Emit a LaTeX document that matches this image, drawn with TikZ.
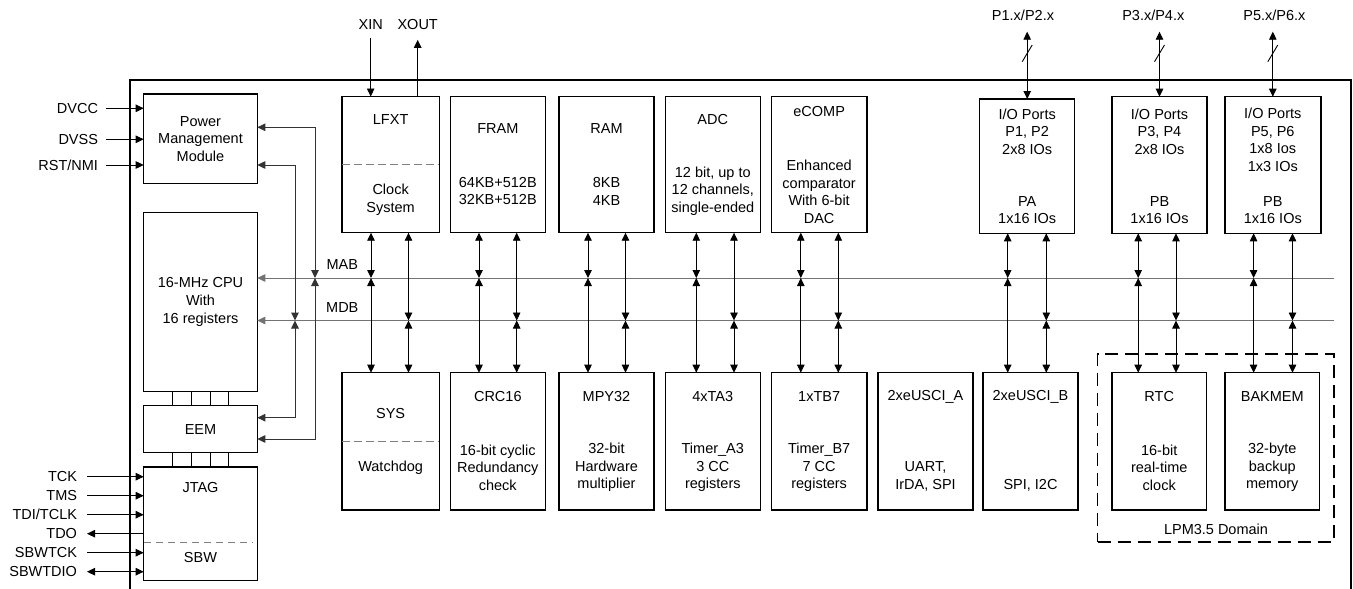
\documentclass[tikz,border=0pt]{standalone}
\usepackage{fontspec}
\setmainfont{Liberation Sans}
\usetikzlibrary{arrows.meta,calc}
\begin{document}
\begin{tikzpicture}[x=1pt,y=-1pt,
  every node/.style={font=\fontsize{14.5pt}{17.6pt}\selectfont},
  blk/.style={draw=black,line width=1.5pt,anchor=north west,inner sep=0pt,outer sep=0pt,minimum width=95pt},
  txt/.style={inner sep=0pt,outer sep=0pt,align=center},
  conn/.style={draw=black,line width=0.9pt},
  gconn/.style={draw=black!80,line width=1pt},
  arr/.style={-{Triangle[length=8pt,width=7.5pt]}},
  darr/.style={{Triangle[length=8pt,width=7.5pt]}-{Triangle[length=8pt,width=7.5pt]}},
  bus/.style={draw=black!55,line width=1pt},
  sepline/.style={draw=black!50,line width=0.9pt,dash pattern=on 7.5pt off 4.5pt},
  lpmbox/.style={draw=black,line width=1.8pt,dash pattern=on 13pt off 7pt,anchor=north west,inner sep=0pt,outer sep=0pt},
]
\useasboundingbox (0,0) rectangle (1353,589);

% chip outline
\draw[line width=1.8pt] (130,600) -- (130,80) -- (1350.7,80) -- (1350.7,600);

% left column
\node[blk,minimum width=113.6pt,minimum height=89.7pt] (pmm) at (143.7,94) {};
\node[blk,minimum width=113.6pt,minimum height=179.4pt] (cpu) at (143.7,212.3) {};
\node[blk,minimum width=113.6pt,minimum height=47pt] (eem) at (143.7,405.7) {};
\node[blk,minimum width=113.6pt,minimum height=113.3pt] (jtag) at (143.7,467) {};
\node[txt] (pmm-t) at (pmm.center) {Power\\Management\\Module};
\node[txt] (cpu-t) at (cpu.center) {16-MHz CPU\\With\\16 registers};
\node[txt] (eem-t) at (eem.center) {EEM};
\node[txt] (jtag-t) at ($(jtag.north)+(0,21)$) {JTAG};
\node[txt] (sbw-t) at ($(jtag.north)+(0,91)$) {SBW};
\draw[sepline] ($(jtag.north west)+(0,75.7)$) -- ($(jtag.north east)+(-4,75.7)$);

% CPU-EEM-JTAG links
\foreach \d in {-28.2,-9.5,9.5,28.2}{
  \draw[conn] ($(cpu.south)+(\d,0)$) -- ($(eem.north)+(\d,0)$);
  \draw[conn] ($(eem.south)+(\d,0)$) -- ($(jtag.north)+(\d,0)$);
}

% left pins
\node[txt,anchor=east] (dvcc) at (98,108.3) {DVCC};
\node[txt,anchor=east] (dvss) at (98,139.3) {DVSS};
\node[txt,anchor=east] (rst) at (98,165) {RST/NMI};
\foreach \n in {dvcc,dvss,rst}{
  \draw[conn,arr] ($(\n.east)+(8,0)$) -- (\n.east -| pmm.west);
}
\node[txt,anchor=east] (tck) at (77,476.7) {TCK};
\node[txt,anchor=east] (tms) at (77,495.7) {TMS};
\node[txt,anchor=east] (tdi) at (77,514.7) {TDI/TCLK};
\node[txt,anchor=east] (tdo) at (77,533.7) {TDO};
\node[txt,anchor=east] (sbwtck) at (77,552.7) {SBWTCK};
\node[txt,anchor=east] (sbwtdio) at (77,571.7) {SBWTDIO};
\foreach \n in {tck,tms,tdi,sbwtck}{
  \draw[conn,arr] ($(\n.east)+(10,0)$) -- (\n.east -| jtag.west);
}
\draw[conn,arr] (tdo.east -| jtag.west) -- ($(tdo.east)+(10,0)$);
\draw[conn,darr] ($(sbwtdio.east)+(10,0)$) -- (sbwtdio.east -| jtag.west);

% top row
\node[blk,minimum width=97.3pt,minimum height=136.2pt] (lfxt) at (342,96.5) {};
\node[blk,minimum height=136.2pt] (fram) at (450.3,96.5) {};
\node[blk,minimum height=136.2pt] (ram) at (559,96.5) {};
\node[blk,minimum height=136.2pt] (adc) at (665.3,96.5) {};
\node[blk,minimum width=95.7pt,minimum height=136.2pt] (ecomp) at (771.3,96.5) {};
\node[blk,minimum height=134.3pt] (io1) at (979.7,99) {};
\node[blk,minimum height=136.6pt] (io2) at (1112,96.7) {};
\node[blk,minimum width=96pt,minimum height=136.6pt] (io3) at (1224.8,96.7) {};

\node[txt] (lfxt-t) at ($(lfxt.north)+(0,22.8)$) {LFXT};
\draw[sepline] ($(lfxt.north west)+(0,67.8)$) -- ($(lfxt.north east)+(0,67.8)$);
\node[txt] (lfxt-b) at ($(lfxt.north)+(0,103)$) {Clock\\System};
\node[txt] (fram-t) at ($(fram.north)+(0,31.8)$) {FRAM};
\node[txt] (fram-b) at ($(fram.north)+(0,94.7)$) {64KB+512B\\32KB+512B};
\node[txt] (ram-t) at ($(ram.north)+(0,31.8)$) {RAM};
\node[txt] (ram-b) at ($(ram.north)+(0,94.7)$) {8KB\\4KB};
\node[txt] (adc-t) at ($(adc.north)+(0,22.8)$) {ADC};
\node[txt] (adc-b) at ($(adc.north)+(0,94.7)$) {12 bit, up to\\12 channels,\\single-ended};
\node[txt] (ecomp-t) at ($(ecomp.north)+(0,15.2)$) {eCOMP};
\node[txt] (ecomp-b) at ($(ecomp.north)+(0,95.2)$) {Enhanced\\comparator\\With 6-bit\\DAC};
\node[txt] (io1-t) at (io1.north |- 0,131.5) {I/O Ports\\P1, P2\\2x8 IOs};
\node[txt] (io1-b) at (io1.north |- 0,210) {PA\\1x16 IOs};
\node[txt] (io2-t) at (io2.north |- 0,131.5) {I/O Ports\\P3, P4\\2x8 IOs};
\node[txt] (io2-b) at (io2.north |- 0,210) {PB\\1x16 IOs};
\node[txt] (io3-t) at (io3.north |- 0,140) {I/O Ports\\P5, P6\\1x8 Ios\\1x3 IOs};
\node[txt] (io3-b) at (io3.north |- 0,210) {PB\\1x16 IOs};

% bottom row
\node[blk,minimum width=97.3pt,minimum height=137.3pt] (sys) at (342,372.7) {};
\node[blk,minimum height=137.3pt] (crc) at (450.3,372.7) {};
\node[blk,minimum height=137.3pt] (mpy) at (559,372.7) {};
\node[blk,minimum height=137.3pt] (ta3) at (665.3,372.7) {};
\node[blk,minimum width=95.7pt,minimum height=137.3pt] (tb7) at (771.3,372.7) {};
\node[blk,minimum height=137.3pt] (usa) at (878,372.7) {};
\node[blk,minimum height=137.3pt] (usb) at (983,372.7) {};
\node[blk,minimum width=94.5pt,minimum height=137.3pt] (rtc) at (1112,372.7) {};
\node[blk,minimum width=94.5pt,minimum height=137.3pt] (bak) at (1225,372.7) {};

\node[txt] (sys-t) at ($(sys.north)+(0,40.6)$) {SYS};
\draw[sepline] ($(sys.north west)+(0,68.3)$) -- ($(sys.north east)+(0,68.3)$);
\node[txt] (sys-b) at ($(sys.north)+(0,95)$) {Watchdog};
\node[txt] (crc-t) at ($(crc.north)+(0,24)$) {CRC16};
\node[txt] (crc-b) at ($(crc.north)+(0,94.8)$) {16-bit cyclic\\Redundancy\\check};
\node[txt] (mpy-t) at ($(mpy.north)+(0,24)$) {MPY32};
\node[txt] (mpy-b) at ($(mpy.north)+(0,94.8)$) {32-bit\\Hardware\\multiplier};
\node[txt] (ta3-t) at ($(ta3.north)+(0,24)$) {4xTA3};
\node[txt] (ta3-b) at ($(ta3.north)+(0,94.8)$) {Timer\_A3\\3 CC\\registers};
\node[txt] (tb7-t) at ($(tb7.north)+(0,24)$) {1xTB7};
\node[txt] (tb7-b) at ($(tb7.north)+(0,94.8)$) {Timer\_B7\\7 CC\\registers};
\node[txt] (usa-t) at ($(usa.north)+(0,24)$) {2xeUSCI\_A};
\node[txt] (usa-b) at ($(usa.north)+(0,103.7)$) {UART,\\IrDA, SPI};
\node[txt] (usb-t) at ($(usb.north)+(0,24)$) {2xeUSCI\_B};
\node[txt] (usb-b) at ($(usb.north)+(0,112.3)$) {SPI, I2C};
\node[txt] (rtc-t) at ($(rtc.north)+(0,24)$) {RTC};
\node[txt] (rtc-b) at ($(rtc.north)+(0,94.8)$) {16-bit\\real-time\\clock};
\node[txt] (bak-t) at ($(bak.north)+(0,24)$) {BAKMEM};
\node[txt] (bak-b) at ($(bak.north)+(0,94.8)$) {32-byte\\backup\\memory};

% LPM3.5 domain
\node[lpmbox,minimum width=236.5pt,minimum height=187.7pt] (lpm) at (1097.5,354) {};
\node[txt] (lpm-t) at (1216,529) {LPM3.5 Domain};

% buses
\coordinate (mabend) at (1334,278);
\coordinate (mdbend) at (1334,320.5);
\draw[bus,arr] (mabend) -- (mabend -| cpu.east);
\draw[bus,arr] (mdbend) -- (mdbend -| cpu.east);
\node[txt] (mab) at (342.3,265) {MAB};
\node[txt] (mdb) at (342.3,308) {MDB};

% PMM / EEM links to buses
\coordinate (v1) at (315,278);
\coordinate (v2) at (295,320.5);
\draw[gconn,darr] ($(pmm.north east)+(0,33.3)$) -| (v1);
\draw[gconn,darr] (v1) |- ($(eem.north east)+(0,33.3)$);
\draw[gconn,darr] ($(pmm.north east)+(0,71)$) -| (v2);
\draw[gconn,darr] (v2) |- ($(eem.north east)+(0,12)$);

% peripheral bus links
\foreach \t/\b/\xa/\xb in {lfxt/sys/371/408.5, fram/crc/479/516.7, ram/mpy/588/625.5, adc/ta3/696.3/734, ecomp/tb7/800.8/838.3, io1/usb/1007.7/1046.3, io2/rtc/1138.2/1176, io3/bak/1253.6/1292.5}{
  \coordinate (ma-\t) at (\xa,278);
  \coordinate (md-\t) at (\xb,320.5);
  \draw[conn,darr] (ma-\t |- \t.south) -- (ma-\t);
  \draw[conn,darr] (ma-\t) -- (ma-\t |- \b.north);
  \draw[conn,darr] (md-\t |- \t.south) -- (md-\t);
  \draw[conn,darr] (md-\t) -- (md-\t |- \b.north);
}

% crystal pins
\node[txt] (xin) at (370.7,25) {XIN};
\node[txt] (xout) at (417.7,25) {XOUT};
\draw[conn,arr] ($(xin.south)+(0,7.7)$) -- (xin.south |- lfxt.north);
\draw[conn,arr] (xout.south |- lfxt.north) -- ($(xout.south)+(0,9.7)$);

% port pins
\node[txt] (p12) at (1023,15) {P1.x/P2.x};
\node[txt] (p34) at (1153.3,15) {P3.x/P4.x};
\node[txt] (p56) at (1274.4,15) {P5.x/P6.x};
\foreach \p/\io in {p12/io1,p34/io2,p56/io3}{
  \coordinate (top-\p) at (\io.north |- 0,31.7);
  \draw[conn,darr] (top-\p) -- (\io.north);
  \draw[conn] ($(top-\p)+(-5,30)$) -- ($(top-\p)+(5,13.3)$);
}
\end{tikzpicture}
\end{document}
